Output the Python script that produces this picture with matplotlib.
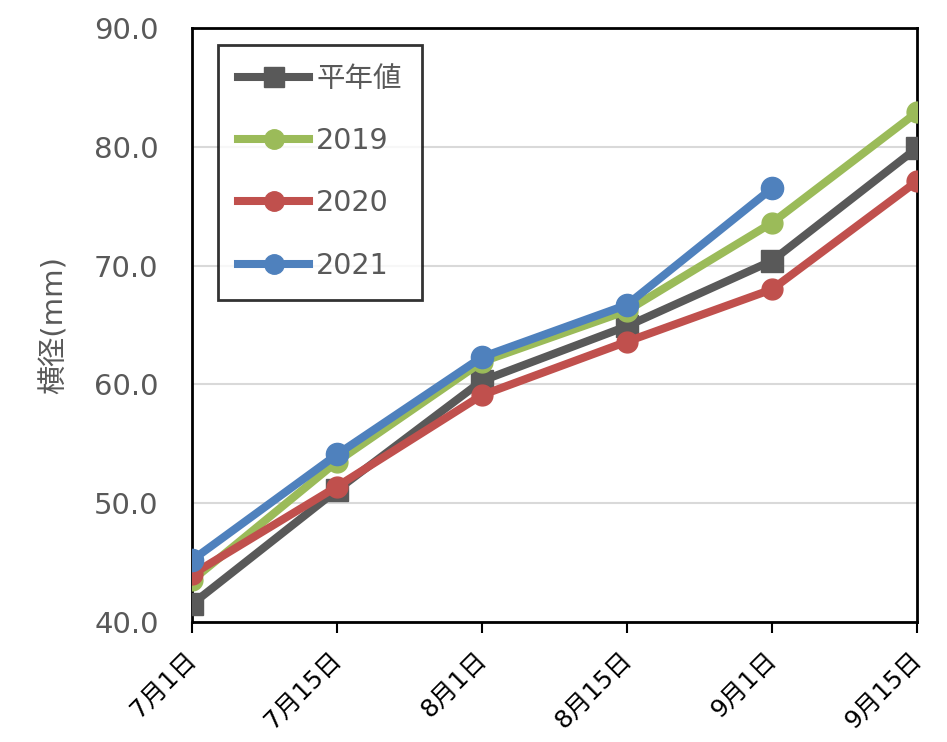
import matplotlib
matplotlib.use("Agg")
import matplotlib.pyplot as plt
from matplotlib.transforms import ScaledTranslation

FAM = ['DejaVu Sans', 'Noto Sans CJK JP']
plt.rcParams['font.family'] = FAM

dates = ["7月1日", "7月15日", "8月1日", "8月15日", "9月1日", "9月15日"]
normal = [41.5, 51.1, 60.3, 64.9, 70.4, 79.9]
y2019 = [43.5, 53.5, 61.9, 66.2, 73.6, 82.9]
y2020 = [44.0, 51.4, 59.1, 63.6, 68.0, 77.1]
y2021 = [45.2, 54.1, 62.3, 66.7, 76.5]
yticks = [40.0, 50.0, 60.0, 70.0, 80.0, 90.0]

fig = plt.figure(figsize=(9.47, 7.42), dpi=100)
ax = fig.add_axes([0.2027, 0.1617, 0.7656, 0.8006])

x = list(range(len(dates)))
lw = 5.8
ax.plot(x, normal, color='#595959', lw=lw, marker='s', ms=16, label='平年値', zorder=3)
ax.plot(x, y2019, color='#9BBB59', lw=lw, marker='o', ms=15, label='2019', zorder=4)
ax.plot(x, y2020, color='#C0504D', lw=lw, marker='o', ms=15, label='2020', zorder=5)
ax.plot(x[:len(y2021)], y2021, color='#4F81BD', lw=lw, marker='o', ms=16, label='2021', zorder=6)

ax.set_xlim(0, len(dates) - 1)
ax.set_ylim(40, 90)
ax.set_yticks(yticks)
ax.set_yticklabels([f"{v:.1f}" for v in yticks], fontsize=21, color='#595959')
ax.tick_params(axis='y', length=0, pad=24)
ax.set_xticks(x)
ax.set_xticklabels(dates, rotation=45, ha='right', rotation_mode='anchor', fontsize=18, color='black')
ax.tick_params(axis='x', length=8, width=1.5, direction='out', pad=10)
offset = ScaledTranslation(-0.08, 0, fig.dpi_scale_trans)
for lab in ax.get_xticklabels():
    lab.set_transform(lab.get_transform() + offset)
ax.grid(axis='y', color='#D9D9D9', lw=1.5, zorder=0)
ax.set_axisbelow(True)
for s in ax.spines.values():
    s.set_color('black')
    s.set_linewidth(2)
ax.set_ylabel('横径(mm)', fontsize=21, color='#595959', labelpad=18)

leg = ax.legend(loc='upper left', bbox_to_anchor=(0.036, 0.971), borderaxespad=0,
                fontsize=20.5, frameon=True, fancybox=False, edgecolor='black',
                handlelength=2.5, labelspacing=1.2, borderpad=0.7,
                handletextpad=0.25, labelcolor='#595959')
leg.get_frame().set_linewidth(2)
for line in leg.get_lines():
    line.set_markersize(14)
    line.set_linewidth(5.8)

fig.savefig('out.png', dpi=100)
